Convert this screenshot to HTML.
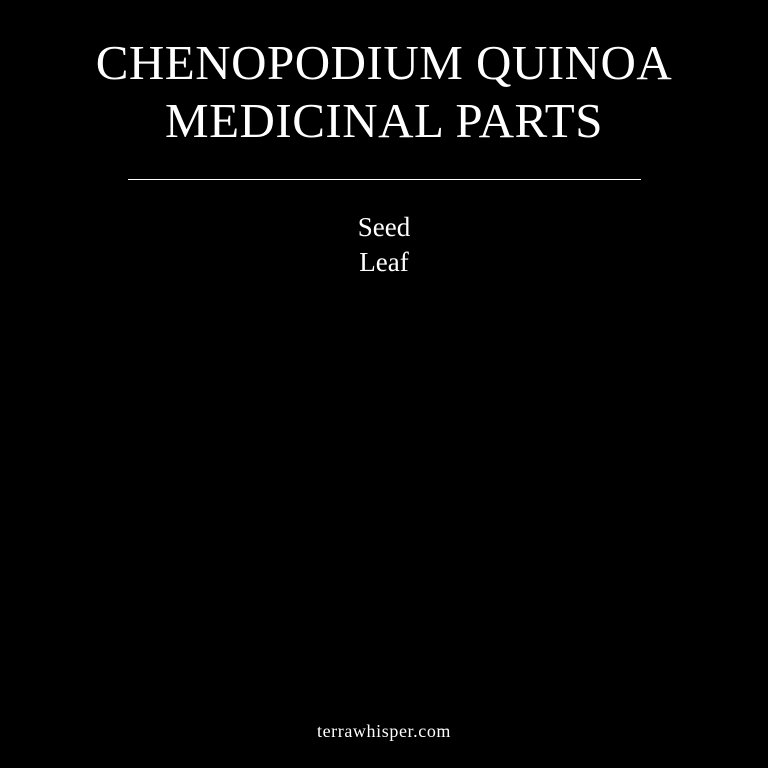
<!DOCTYPE html>
<html><head><meta charset="utf-8"><style>
html,body{margin:0;padding:0;background:#000;}
body{width:768px;height:768px;position:relative;overflow:hidden;font-family:"Liberation Serif",serif;color:#fff;}
.t{position:absolute;left:0;width:768px;text-align:center;}
</style></head><body>
<div class="t" style="top:34px;font-size:49px;line-height:58px;letter-spacing:0.5px;">CHENOPODIUM QUINOA<br>MEDICINAL PARTS</div>
<div style="position:absolute;left:128px;top:179px;width:513px;height:1px;background:#fff;"></div>
<div class="t" style="top:211px;font-size:27px;line-height:32px;">Seed</div>
<div class="t" style="top:246px;font-size:27px;line-height:32px;">Leaf</div>
<div class="t" style="top:720px;font-size:18px;line-height:22px;letter-spacing:0.6px;">terrawhisper.com</div>
</body></html>
